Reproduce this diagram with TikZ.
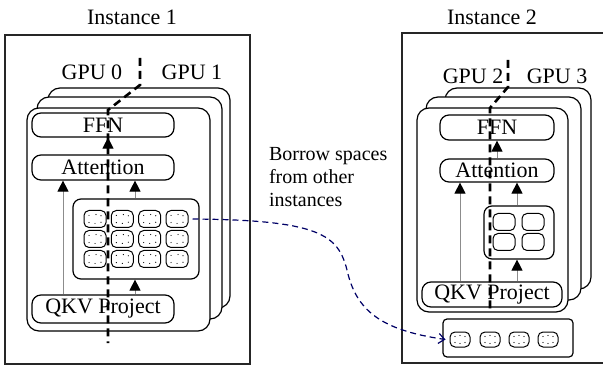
\documentclass[tikz,border=0pt]{standalone}
\usepackage{fontspec}
\setmainfont{Liberation Serif}
\usetikzlibrary{arrows.meta,positioning}
\tikzset{font=\fontsize{11}{13}\selectfont}
\tikzset{frame/.style={draw=black!85, line width=0.6pt}}
\tikzset{layer/.style={draw, fill=white, rounded corners=6pt, line width=0.6pt}}
\tikzset{blk/.style={draw, fill=white, rounded corners=4.5pt, inner sep=0pt,
    line width=0.6pt, minimum width=71pt}}
\tikzset{pool/.style={draw, fill=white, rounded corners=4pt, inner sep=0pt, line width=0.6pt}}
\tikzset{cell/.style={draw, fill=white, rounded corners=2.5pt, inner sep=0pt,
    line width=0.5pt, minimum width=11pt, minimum height=8.5pt}}
\tikzset{arr/.style={draw=black!45, line width=0.5pt,
    -{Triangle[black, length=5.5pt, width=5.5pt]}}}
\tikzset{split/.style={line width=1.3pt, dash pattern=on 4pt off 2.5pt}}
\tikzset{borrow/.style={draw=blue!40!black, line width=0.6pt,
    dash pattern=on 3pt off 2pt, -{Straight Barb[length=3pt, width=5pt]}}}

\begin{document}
\begin{tikzpicture}[x=0.5pt,y=-0.5pt]
  \useasboundingbox (0,0) rectangle (603,367);

  % instance 1
  \node (lab1) at (132,17) {Instance 1};
  \draw[frame] (5,35) rectangle (250,364);
  \draw[layer] (48,88) rectangle (230,308);
  \draw[layer] (37,97) rectangle (222,319);
  \draw[layer] (27,108) rectangle (210,331);
  \node (gpu0) at (92,72) {GPU 0};
  \node (gpu1) at (192,72) {GPU 1};

  \node[blk, minimum height=12pt] (ffn1) at (103,125) {FFN};
  \node[blk, minimum height=12.5pt] (att1) at (103,167.5) {Attention};
  \node[blk, minimum height=14pt] (qkv1) at (103,309) {QKV Project};
  \node[pool, minimum width=63pt, minimum height=40pt] (kv1) at (136,239) {};
  \foreach \r/\y in {1/219,2/239,3/259}
    \foreach \c/\x in {1/95,2/122.3,3/149.7,4/177}
      \node[cell] (kv1-\r-\c) at (\x,\y) {};
  \foreach \r in {1,2,3}
    \foreach \c in {1,...,4}
      \foreach \dx/\dy in {-3/-1.8,0/-2.2,3/-1.6,-3/1.8,0.5/2.2,3/1.6}
        \fill (kv1-\r-\c.center) ++(\dx pt,\dy pt) circle (0.3pt);

  \coordinate (a1) at (63,0);
  \coordinate (b1) at (135,0);
  \coordinate (c1) at (108,0);
  \draw[arr] (qkv1.north -| a1) -- (att1.south -| a1);
  \draw[arr] (kv1.north -| b1) -- (att1.south -| b1);
  \draw[arr] (qkv1.north -| b1) -- (kv1.south -| b1);
  \draw[arr] (att1.north -| c1) -- (ffn1.south -| c1);
  \draw[split] (140,58) -- (140,85) -- (108,110) -- (108,343);

  % instance 2
  \node (lab2) at (492,17) {Instance 2};
  \draw[frame] (402,33) rectangle (604,363);
  \draw[layer] (445,88) rectangle (591,289);
  \draw[layer] (426,97) rectangle (581,300);
  \draw[layer] (417,108) rectangle (568,312);
  \node (gpu2) at (473,76) {GPU 2};
  \node (gpu3) at (557,76) {GPU 3};

  \node[blk, minimum width=57pt, minimum height=12.5pt] (ffn2) at (497,127.5) {FFN};
  \node[blk, minimum width=57pt, minimum height=11.5pt] (att2) at (497,170.5) {Attention};
  \node[blk, minimum width=70pt, minimum height=12.5pt] (qkv2) at (492,294.5) {QKV Project};
  \node[pool, minimum width=35pt, minimum height=26.5pt] (kv2) at (519,232.5) {};
  \foreach \r/\y in {1/222,2/242}
    \foreach \c/\x in {1/504,2/533}
      \node[cell] (kv2-\r-\c) at (\x,\y) {};

  \coordinate (a2) at (460,0);
  \coordinate (b2) at (517,0);
  \coordinate (c2) at (497,0);
  \draw[arr] (qkv2.north -| a2) -- (att2.south -| a2);
  \draw[arr] (kv2.north -| b2) -- (att2.south -| b2);
  \draw[arr] (qkv2.north -| b2) -- (kv2.south -| b2);
  \draw[arr] (att2.north -| c2) -- (ffn2.south -| c2);
  \draw[split] (508,60) -- (508,87) -- (490,108) -- (490,312);

  % borrowed space
  \node[pool, rounded corners=2pt, minimum width=65pt, minimum height=19pt] (spare) at (508,338) {};
  \foreach \c/\x in {1/460,2/490,3/519,4/548}
    \node[cell, minimum width=10pt, minimum height=7.5pt] (sp-\c) at (\x,339.5) {};
  \foreach \c in {1,...,4}
    \foreach \dx/\dy in {-2.5/-1.5,0/-2,2.5/-1.5,-2.5/1.5,0/2,2.5/1.5}
      \fill (sp-\c.center) ++(\dx pt,\dy pt) circle (0.3pt);

  \node[align=left, anchor=west, font=\fontsize{10}{11.5}\selectfont] (note) at (262,177)
    {Borrow spaces\\from other\\instances};
  \coordinate (bend) at (347,270);
  \draw[borrow] ([xshift=2pt]kv1-1-4.east) .. controls (320,220) and (338,235) .. (bend)
    .. controls (356,310) and (380,330) .. ([xshift=-2pt]sp-1.west);
\end{tikzpicture}
\end{document}
